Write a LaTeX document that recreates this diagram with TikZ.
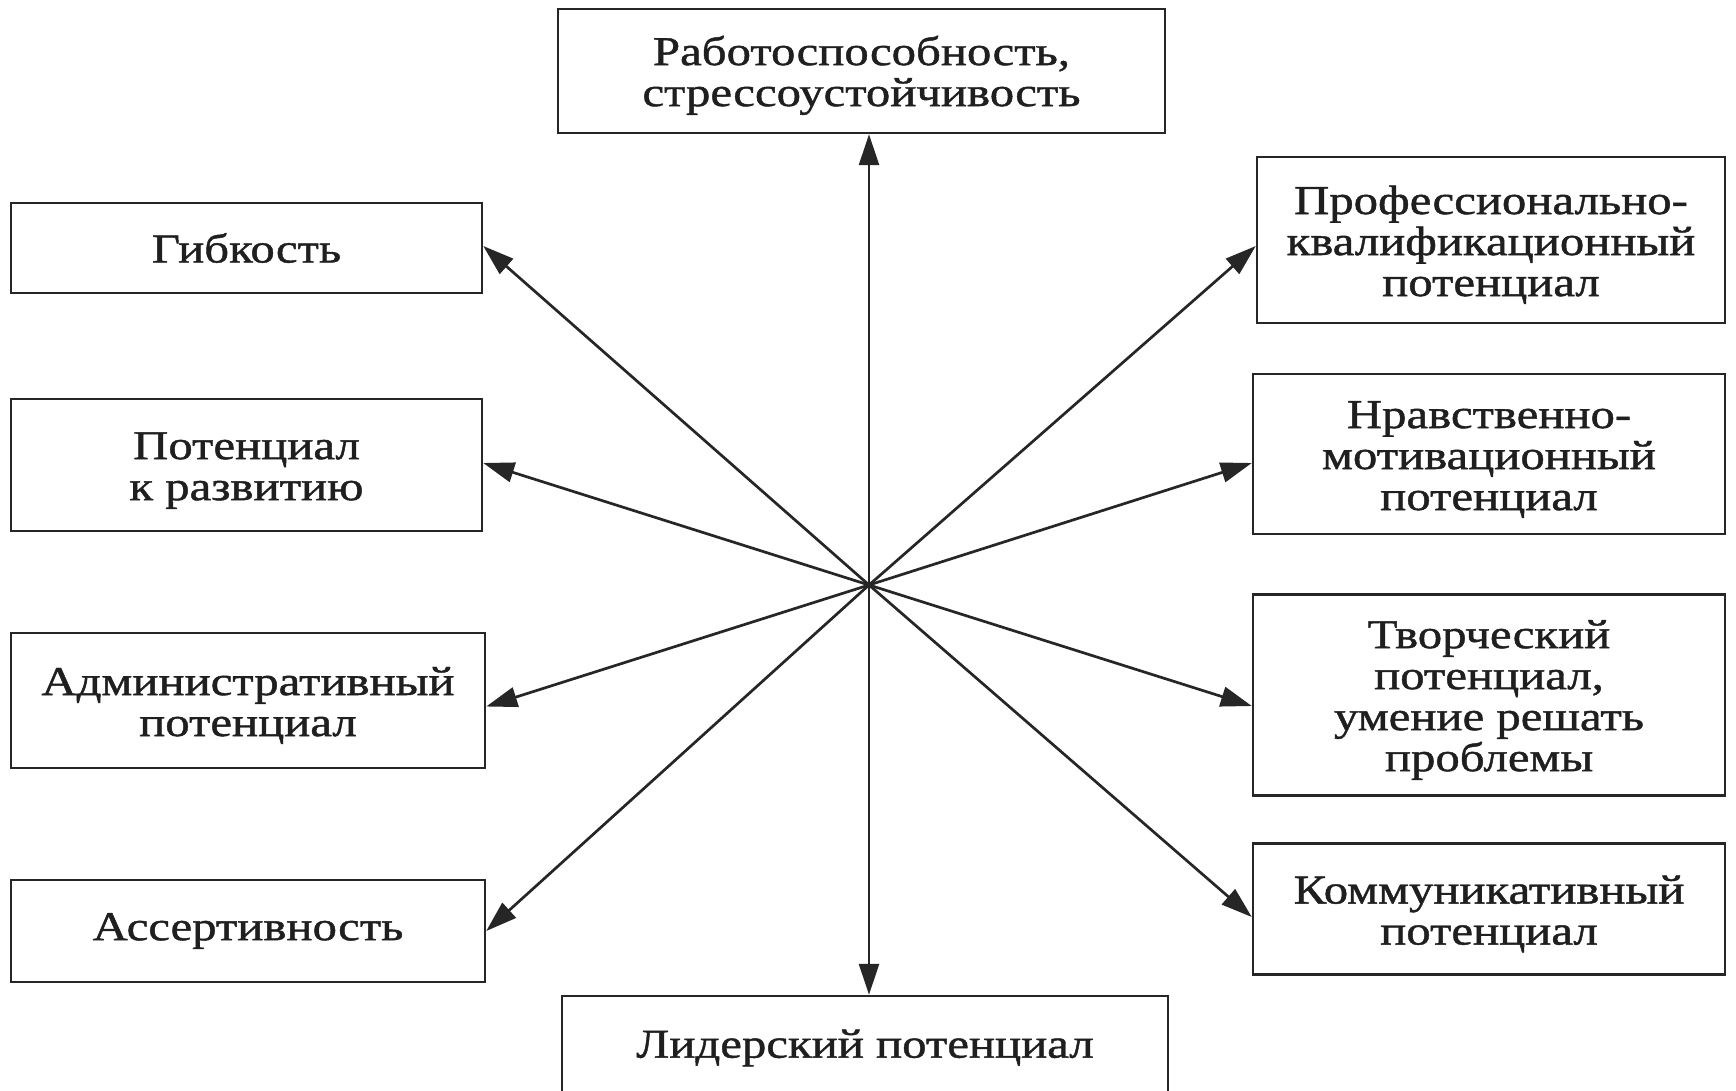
\documentclass[tikz,border=0pt]{standalone}
\usepackage{fontspec}
\setmainfont{Liberation Serif}[FakeStretch=1.19,FakeBold=1.1]
\usetikzlibrary{arrows.meta}
\newcommand\mystrut{\rule{0pt}{38pt}}
\begin{document}
\begin{tikzpicture}[x=1pt,y=-1pt,
  box/.style={draw=black!85, line width=2.5pt, align=center, inner sep=0pt,
    font=\fontsize{41}{41}\selectfont, text=black!88},
  arr/.style={draw=black!85, line width=2.7pt, -{Triangle[length=31pt,width=20pt]}}]
\clip (0,0) rectangle (1736,1091);
\fill[white] (0,0) rectangle (1736,1091);
\coordinate (c) at (869,585);
\node[box, minimum width=607pt, minimum height=124pt] (top) at (861.5,71) {\mystrut Работоспособность,\\стрессоустойчивость};
\node[box, minimum width=471pt, minimum height=90pt] (gib) at (246.5,248) {Гибкость};
\node[box, minimum width=471pt, minimum height=132pt] (pot) at (246.5,465) {\mystrut Потенциал\\к развитию};
\node[box, minimum width=474pt, minimum height=135pt] (adm) at (248,700.5) {\mystrut Административный\\потенциал};
\node[box, minimum width=474pt, minimum height=102pt] (ass) at (248,931) {Ассертивность};
\node[box, minimum width=606pt, minimum height=104pt] (lid) at (865,1048) {Лидерский потенциал};
\node[box, minimum width=468pt, minimum height=166pt] (prof) at (1491,240) {\mystrut Профессионально-\\квалификационный\\потенциал};
\node[box, minimum width=472pt, minimum height=160pt] (nrav) at (1489,454) {\mystrut Нравственно-\\мотивационный\\потенциал};
\node[box, minimum width=472pt, minimum height=201pt] (tvor) at (1489,695) {\mystrut Творческий\\потенциал,\\умение решать\\проблемы};
\node[box, minimum width=472pt, minimum height=131pt] (kom) at (1489,909) {\mystrut Коммуникативный\\потенциал};
\draw[arr] (c) -- (top.south -| c);
\draw[arr] (c) -- (lid.north -| c);
\draw[arr] (c) -- ([yshift=2pt]gib.east);
\draw[arr] (c) -- ([yshift=2pt]pot.east);
\draw[arr] (c) -- ([yshift=-6pt]adm.east);
\draw[arr] (c) -- (ass.east);
\draw[arr] (c) -- ([yshift=-6pt]prof.west);
\draw[arr] (c) -- ([yshift=-9pt]nrav.west);
\draw[arr] (c) -- ([yshift=-11pt]tvor.west);
\draw[arr] (c) -- ([yshift=-8pt]kom.west);
\end{tikzpicture}
\end{document}
